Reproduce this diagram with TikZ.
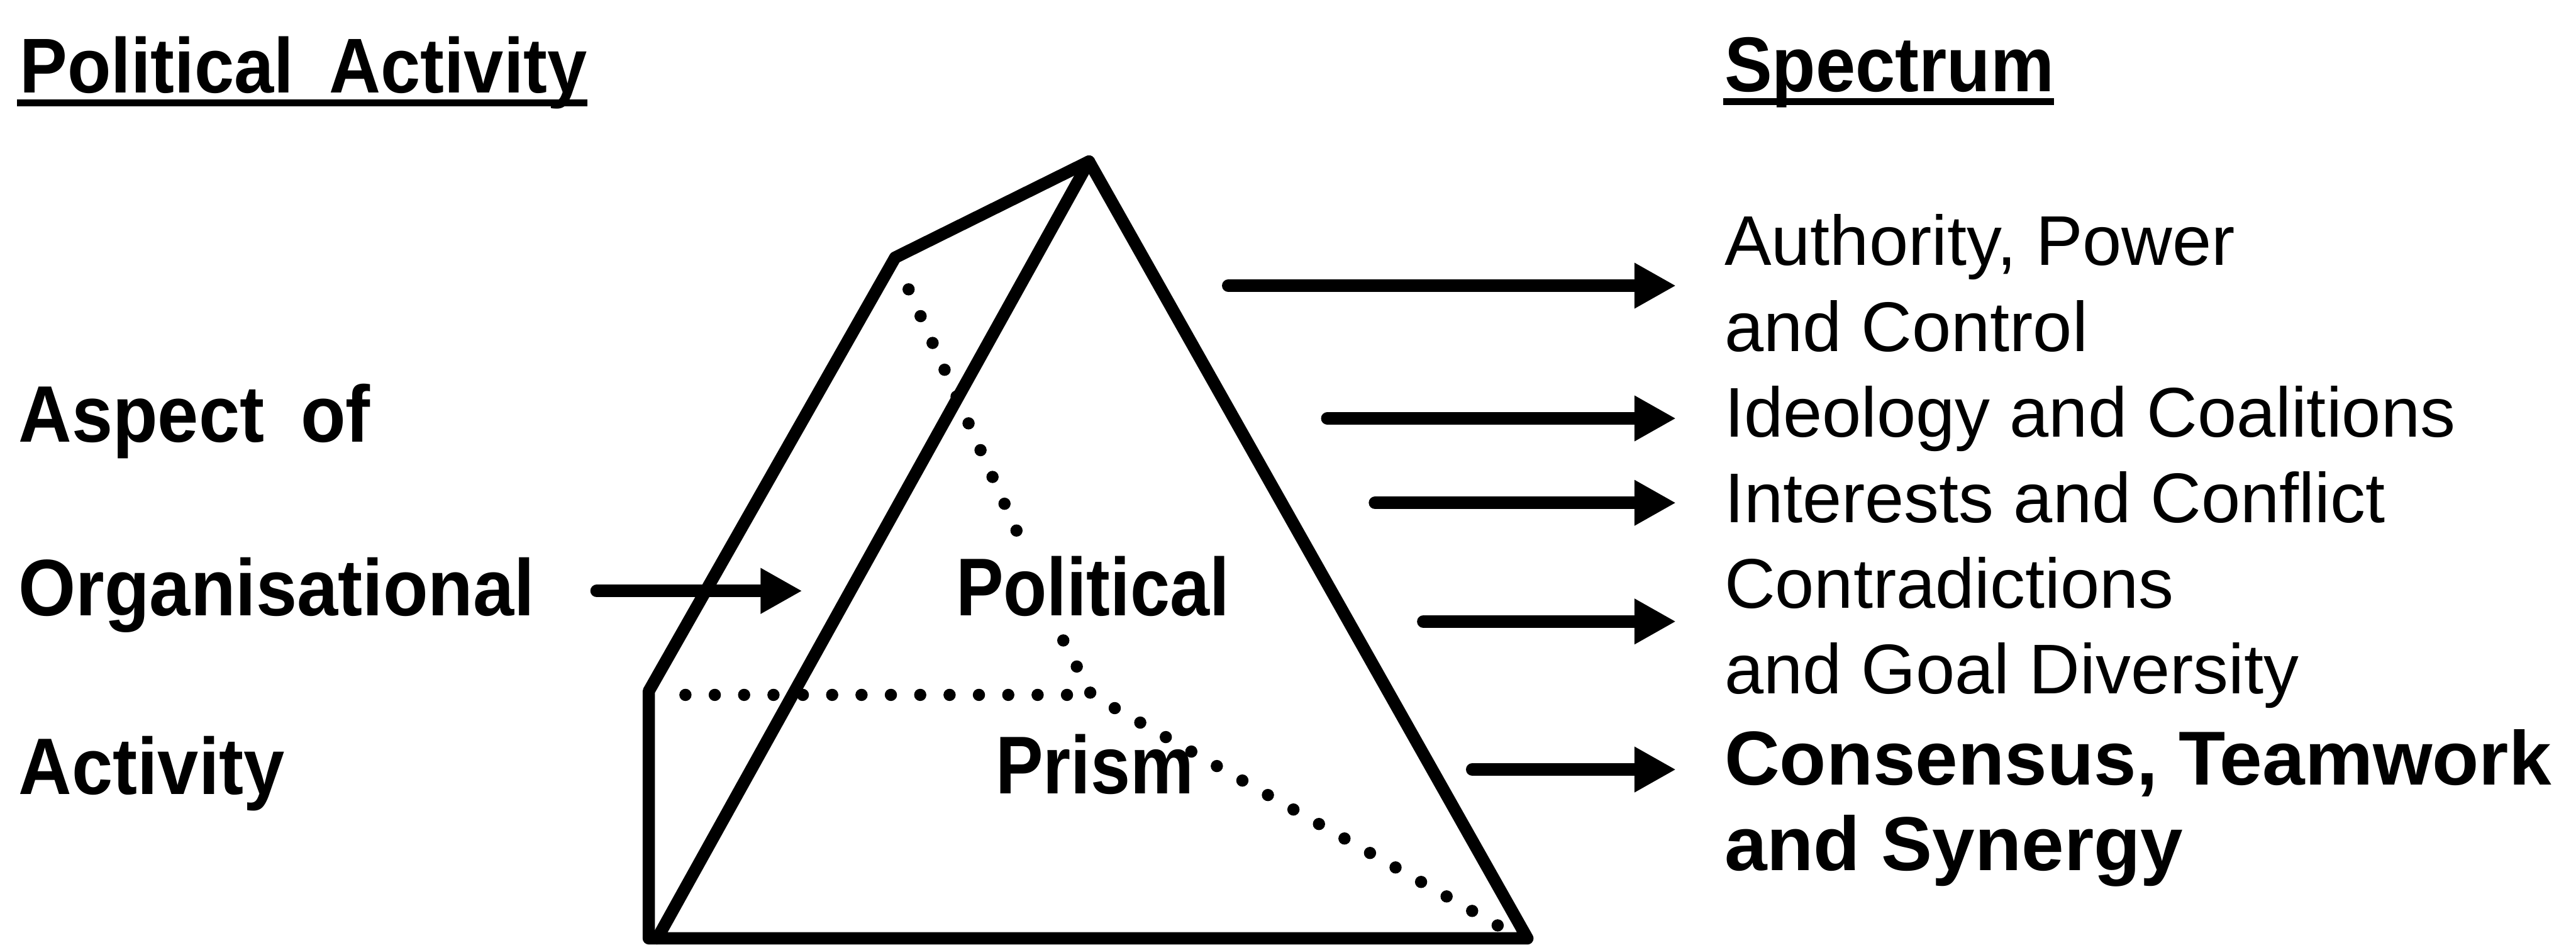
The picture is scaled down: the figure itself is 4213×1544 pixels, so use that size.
\documentclass[tikz,border=0pt]{standalone}
\usepackage{fontspec}
\setmainfont{Liberation Sans}
\newfontfamily\bdn{Liberation Sans}[FakeStretch=0.92]
\newfontfamily\bdc{Liberation Sans}[FakeStretch=0.87]
\usetikzlibrary{arrows.meta}
\tikzset{
  hdr/.style={anchor=base west, inner sep=0pt, font=\bdn\bfseries\fontsize{63.5}{76}\selectfont},
  lbl/.style={anchor=base west, inner sep=0pt, font=\bdn\bfseries\fontsize{65.5}{78}\selectfont},
  plbl/.style={anchor=base west, inner sep=0pt, font=\bdc\bfseries\fontsize{67}{80}\selectfont},
  spec/.style={anchor=base west, inner sep=0pt, font=\fontsize{57.5}{70}\selectfont},
  specb/.style={anchor=base west, inner sep=0pt, font=\bfseries\fontsize{62.5}{75}\selectfont},
  edgeline/.style={line width=10pt, line join=round, line cap=round},
  hidden/.style={line width=10pt, line cap=round, dash pattern=on 0pt off 24pt},
  arr/.style={line width=10.5pt, line cap=round, -{Triangle[length=34pt,width=35pt]}},
  uline/.style={line width=5.5pt}
}
\begin{document}
\begin{tikzpicture}[x=0.5pt,y=-0.5pt]
\useasboundingbox (0,0) rectangle (4213,1544);
% headers
\node[hdr] (pa) at (32,152) {Political\hspace{0.2em} Activity};
\draw[uline] ([shift={(-2pt,-8pt)}]pa.base west) -- ([shift={(0pt,-8pt)}]pa.base east);
\node[hdr] (sp) at (2820,150) {Spectrum};
\draw[uline] ([shift={(-1pt,-8pt)}]sp.base west) -- ([shift={(0pt,-8pt)}]sp.base east);
% left labels
\node[lbl] (asp) at (30,723) {Aspect\hspace{0.2em} of};
\node[lbl] (org) at (30,1006) {Organisational};
\node[lbl] (act) at (30,1299) {Activity};
% prism geometry
\coordinate (A) at (1781,264);
\coordinate (B) at (1464,421);
\coordinate (C) at (1061,1130);
\coordinate (D) at (1061,1534);
\coordinate (E) at (1075,1534);
\coordinate (F) at (2498,1534);
\coordinate (H) at (1785,1136);
\coordinate (Bd) at (1486,473);
\coordinate (P1) at (1682,911);
\coordinate (P2) at (1739,1047);
\coordinate (Cd) at (1121,1136);
\coordinate (Fd) at (2462,1520);
\draw[hidden] (Bd) -- (P1);
\draw[hidden] (P2) -- (H) -- (Fd);
\draw[hidden] (Cd) -- (H);
\draw[edgeline] (D) -- (C) -- (B) -- (A) -- (F) -- cycle;
\draw[edgeline] (A) -- (E);
\node[plbl] (pol) at (1563,1006) {Political};
\node[plbl] (pri) at (1628,1298) {Prism};
% arrow into prism
\coordinate (o1) at (976,966);
\coordinate (o2) at (1312,966);
\draw[arr] (o1) -- (o2);
% spectrum texts
\node[spec] (t1) at (2820,434) {Authority, Power};
\node[spec] (t2) at (2820,574) {and Control};
\node[spec] (t3) at (2820,714) {Ideology and Coalitions};
\node[spec] (t4) at (2820,854) {Interests and Conflict};
\node[spec] (t5) at (2820,994) {Contradictions};
\node[spec] (t6) at (2820,1134) {and Goal Diversity};
\node[specb] (t7) at (2820,1283) {Consensus, Teamwork};
\node[specb] (t8) at (2820,1423) {and Synergy};
% spectrum arrows
\coordinate (s1) at (2009,467); \coordinate (e1) at (2741,467);
\coordinate (s2) at (2171,684); \coordinate (e2) at (2741,684);
\coordinate (s3) at (2249,822); \coordinate (e3) at (2741,822);
\coordinate (s4) at (2328,1016); \coordinate (e4) at (2741,1016);
\coordinate (s5) at (2408,1258); \coordinate (e5) at (2741,1258);
\draw[arr] (s1) -- (e1);
\draw[arr] (s2) -- (e2);
\draw[arr] (s3) -- (e3);
\draw[arr] (s4) -- (e4);
\draw[arr] (s5) -- (e5);
\end{tikzpicture}
\end{document}
